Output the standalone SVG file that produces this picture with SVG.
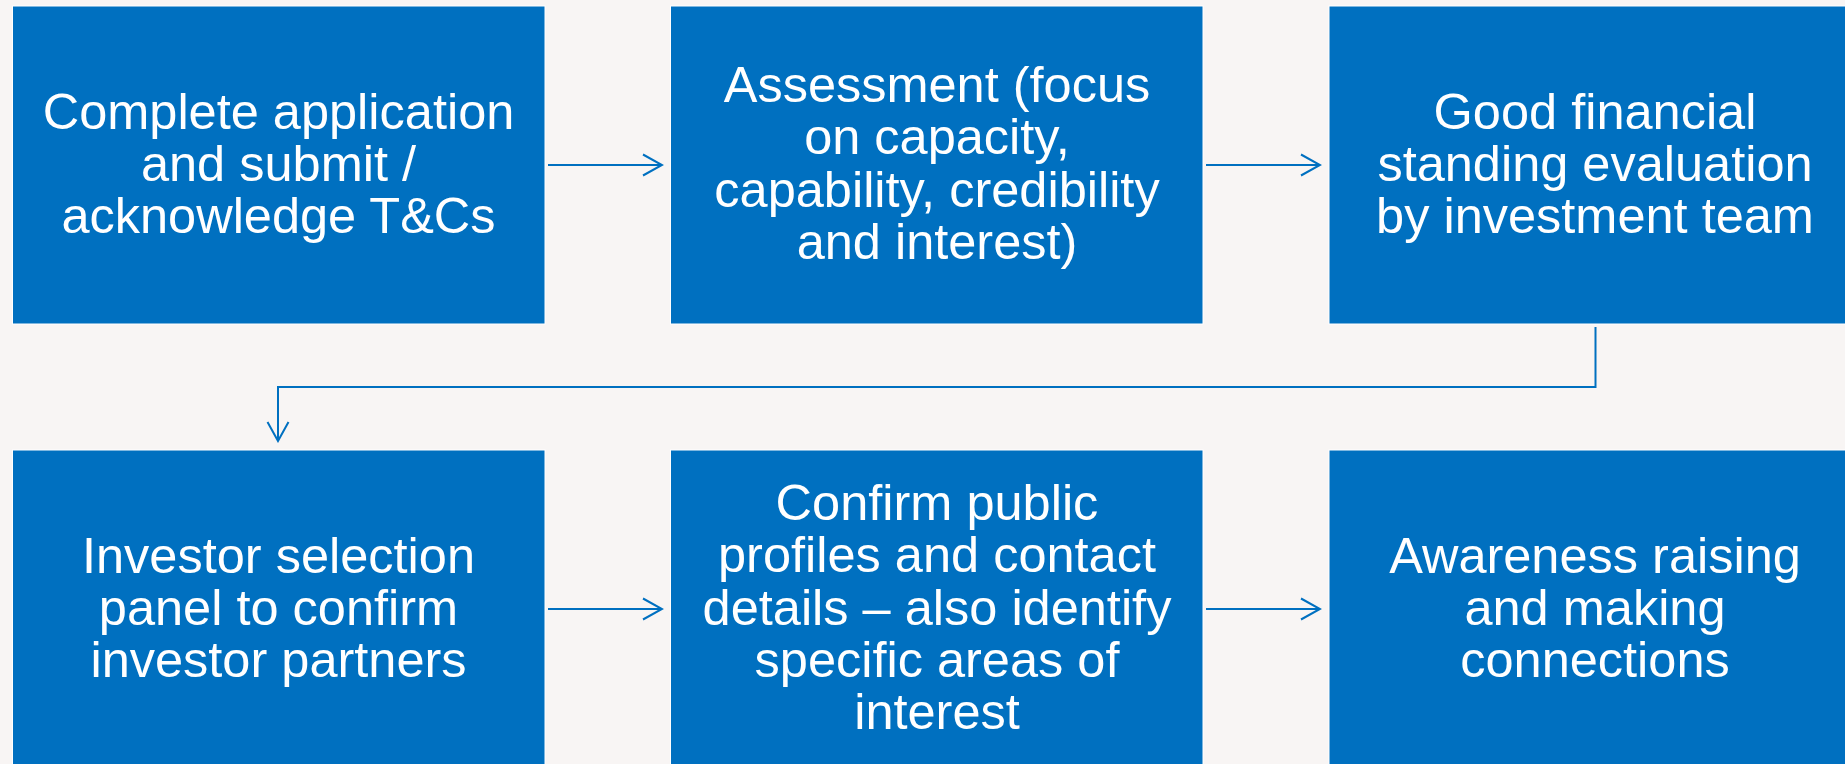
<svg xmlns="http://www.w3.org/2000/svg" width="1845" height="764" viewBox="0 0 1845 764">
<style>
.box{fill:#0070C0;stroke:#FFFFFF;stroke-width:1}
.lbl{fill:#FFFFFF;font-family:"Liberation Sans",Arial,sans-serif;font-size:50.5px;text-anchor:middle}
.conn{fill:none;stroke:#0070C0;stroke-width:2}
</style>
<defs>
<marker id="arr" markerUnits="userSpaceOnUse" markerWidth="22" markerHeight="24" viewBox="0 0 22 24" refX="20" refY="12" orient="auto">
<path d="M1,1.5 L20,12 L1,22.5" fill="none" stroke="#0070C0" stroke-width="2"/>
</marker>
</defs>
<rect x="0" y="0" width="1845" height="764" fill="#F8F5F4"/>
<g id="n1">
<rect class="box" x="12.5" y="6" width="532.5" height="318"/>
<text class="lbl" x="278.5" y="128.5">Complete application</text>
<text class="lbl" x="278.5" y="180.7">and submit /</text>
<text class="lbl" x="278.5" y="232.8">acknowledge T&amp;Cs</text>
</g>
<g id="n2">
<rect class="box" x="670.5" y="6" width="532.5" height="318"/>
<text class="lbl" x="937" y="102">Assessment (focus</text>
<text class="lbl" x="937" y="154.4">on capacity,</text>
<text class="lbl" x="937" y="206.8">capability, credibility</text>
<text class="lbl" x="937" y="259.2">and interest)</text>
</g>
<g id="n3">
<rect class="box" x="1329" y="6" width="532.5" height="318"/>
<text class="lbl" x="1595" y="128.5">Good financial</text>
<text class="lbl" x="1595" y="180.7">standing evaluation</text>
<text class="lbl" x="1595" y="232.8">by investment team</text>
</g>
<g id="n4">
<rect class="box" x="12.5" y="450" width="532.5" height="318"/>
<text class="lbl" x="278.5" y="572.5">Investor selection</text>
<text class="lbl" x="278.5" y="624.7">panel to confirm</text>
<text class="lbl" x="278.5" y="676.9">investor partners</text>
</g>
<g id="n5">
<rect class="box" x="670.5" y="450" width="532.5" height="318"/>
<text class="lbl" x="937" y="520">Confirm public</text>
<text class="lbl" x="937" y="572.3">profiles and contact</text>
<text class="lbl" x="937" y="624.6">details – also identify</text>
<text class="lbl" x="937" y="676.9">specific areas of</text>
<text class="lbl" x="937" y="729.2">interest</text>
</g>
<g id="n6">
<rect class="box" x="1329" y="450" width="532.5" height="318"/>
<text class="lbl" x="1595" y="572.5">Awareness raising</text>
<text class="lbl" x="1595" y="624.7">and making</text>
<text class="lbl" x="1595" y="676.9">connections</text>
</g>
<g id="connectors">
<path class="conn" d="M548,165 H662" marker-end="url(#arr)"/>
<path class="conn" d="M1206,165 H1320" marker-end="url(#arr)"/>
<path class="conn" d="M1595.5,327 V387 H278 V441" marker-end="url(#arr)"/>
<path class="conn" d="M548,609 H662" marker-end="url(#arr)"/>
<path class="conn" d="M1206,609 H1320" marker-end="url(#arr)"/>
</g>
</svg>
